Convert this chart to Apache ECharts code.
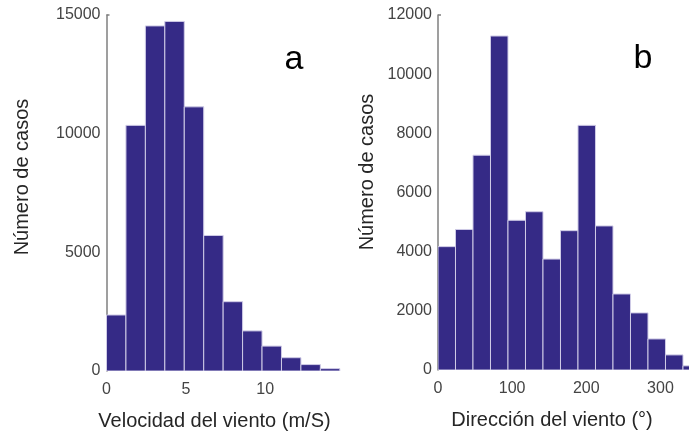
<!DOCTYPE html>
<html>
<head>
<meta charset="utf-8">
<script src="https://cdn.jsdelivr.net/npm/echarts@6/dist/echarts.min.js"></script>
<style>html,body{margin:0;padding:0;background:#fff}#c{width:689px;height:433px}</style>
</head>
<body>
<div id="c"></div>
<script>
// Panel a: wind speed histogram
const speedBinStart = 0;
const speedBinWidth = 1.225;
const speedCounts = [2360, 10350, 14540, 14730, 11130, 5710, 2920, 1690, 1050, 560, 270, 100];
const speedTicks = [0, 5, 10];
const speedYTicks = [0, 5000, 10000, 15000];

// Panel b: wind direction histogram
const dirBinStart = 0;
const dirBinWidth = 23.6;
const dirCounts = [4170, 4750, 7260, 11290, 5060, 5350, 3750, 4710, 8270, 4870, 2570, 1930, 1050, 510, 140];
const dirTicks = [0, 100, 200, 300];
const dirYTicks = [0, 2000, 4000, 6000, 8000, 10000, 12000];

const FONT = '"Liberation Sans", Arial, sans-serif';
const BAR = '#352a86';

function histData(start, w, counts) {
  return counts.map((c, i) => [start + i * w, start + (i + 1) * w, c]);
}
function renderBar(params, api) {
  const p0 = api.coord([api.value(0), api.value(2)]);
  const p1 = api.coord([api.value(1), 0]);
  return {
    type: 'rect',
    shape: { x: p0[0], y: p0[1], width: p1[0] - p0[0], height: p1[1] - p0[1] },
    style: { fill: BAR, stroke: '#cfcbe6', lineWidth: 1 }
  };
}
const plain = v => String(v);
function xAxisCfg(idx, max, interval) {
  return {
    type: 'value', gridIndex: idx, min: 0, max: max, interval: interval,
    axisLine: { show: false }, axisTick: { show: false }, splitLine: { show: false },
    axisLabel: { color: '#444', fontFamily: FONT, fontSize: 16, margin: 11, showMaxLabel: false, formatter: plain }
  };
}
function yAxisCfg(idx, max, interval) {
  return {
    type: 'value', gridIndex: idx, min: 0, max: max, interval: interval,
    axisLine: { show: true, lineStyle: { color: '#7f7f7f', width: 1.5 } },
    axisTick: { show: true, inside: true, length: 3, customValues: [max], lineStyle: { color: '#7f7f7f', width: 1.5 } },
    splitLine: { show: false },
    axisLabel: { color: '#444', fontFamily: FONT, fontSize: 16, margin: 6, formatter: plain }
  };
}

const chart = echarts.init(document.getElementById('c'), null, { renderer: 'canvas' });
chart.setOption({
  animation: false,
  backgroundColor: '#fff',
  grid: [
    { left: 106.5, top: 15, right: 689 - 339.8, bottom: 62 },
    { left: 438, top: 15, right: 0, bottom: 63 }
  ],
  xAxis: [xAxisCfg(0, 14.7, 5), xAxisCfg(1, 338.5, 100)],
  yAxis: [yAxisCfg(0, 15000, 5000), yAxisCfg(1, 12000, 2000)],
  series: [
    { type: 'custom', xAxisIndex: 0, yAxisIndex: 0, clip: true, renderItem: renderBar,
      encode: { x: [0, 1], y: 2 }, data: histData(speedBinStart, speedBinWidth, speedCounts) },
    { type: 'custom', xAxisIndex: 1, yAxisIndex: 1, clip: true, renderItem: renderBar,
      encode: { x: [0, 1], y: 2 }, data: histData(dirBinStart, dirBinWidth, dirCounts) }
  ],
  graphic: [
    { type: 'text', x: 22.5, y: 177, rotation: Math.PI / 2,
      style: { text: 'Número de casos', font: '20px ' + FONT, fill: '#262626', align: 'center', verticalAlign: 'middle' } },
    { type: 'text', x: 367.5, y: 172, rotation: Math.PI / 2,
      style: { text: 'Número de casos', font: '20px ' + FONT, fill: '#262626', align: 'center', verticalAlign: 'middle' } },
    { type: 'text', x: 214.5, y: 421,
      style: { text: 'Velocidad del viento (m/S)', font: '20px ' + FONT, fill: '#262626', align: 'center', verticalAlign: 'middle' } },
    { type: 'text', x: 552, y: 420,
      style: { text: 'Dirección del viento (°)', font: '20px ' + FONT, fill: '#262626', align: 'center', verticalAlign: 'middle' } },
    { type: 'text', x: 294, y: 43,
      style: { text: 'a', font: '34px ' + FONT, fill: '#000', align: 'center', verticalAlign: 'alphabetic' } },
    { type: 'text', x: 643, y: 42,
      style: { text: 'b', font: '34px ' + FONT, fill: '#000', align: 'center', verticalAlign: 'alphabetic' } }
  ]
});
</script>
</body>
</html>
